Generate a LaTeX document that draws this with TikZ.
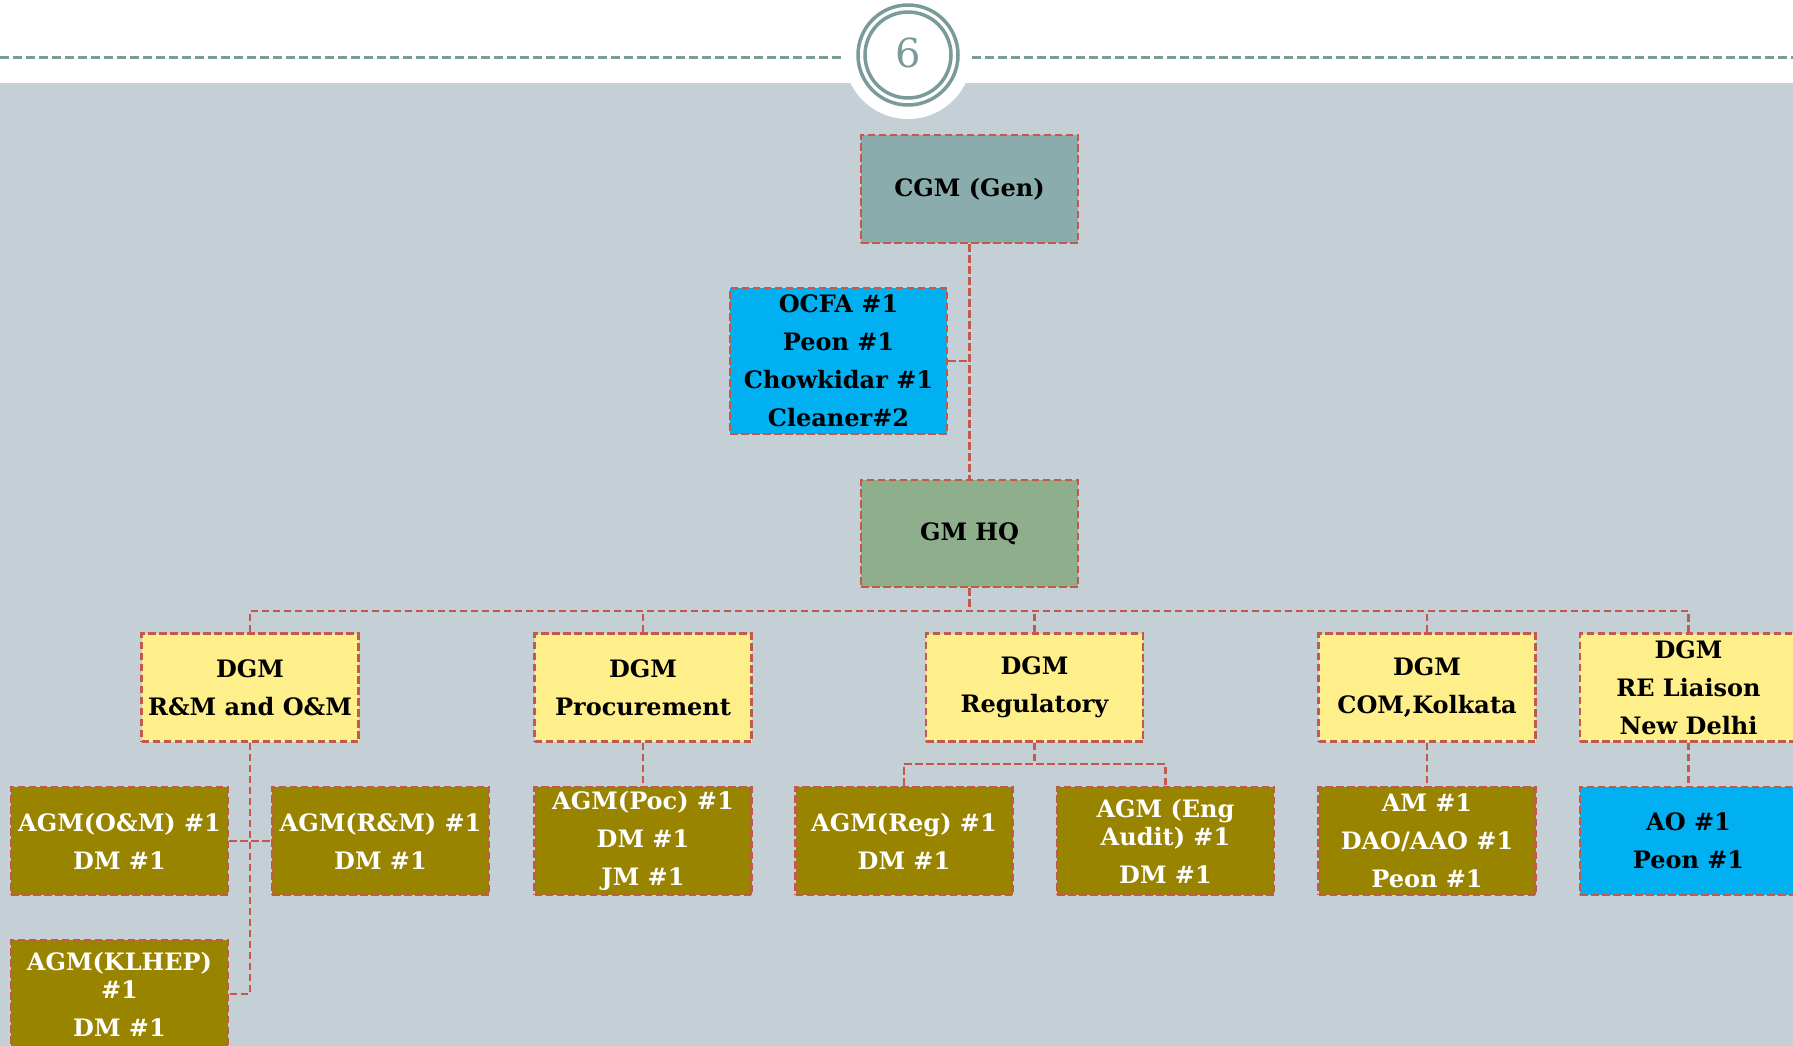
\documentclass[tikz,border=0pt]{standalone}
\usepackage{fontspec}
\setmainfont{DejaVu Serif}
\definecolor{bggray}{HTML}{C5D0D6}
\definecolor{ringc}{HTML}{7A9B99}
\definecolor{bord}{HTML}{C2594A}
\definecolor{cgmc}{HTML}{8AACAC}
\definecolor{gmc}{HTML}{8FAF8C}
\definecolor{yelc}{HTML}{FFEF8A}
\definecolor{bluec}{HTML}{00B0F0}
\definecolor{olivec}{HTML}{998400}
\begin{document}
\begin{tikzpicture}[x=1pt,y=-1pt,
  box/.style={draw=bord, line width=2.8pt, dash pattern=on 7.5pt off 3.5pt,
    minimum width=217pt, minimum height=108pt, inner sep=0pt, align=center,
    font=\fontsize{24}{38}\selectfont\bfseries, text=black},
  cgmbox/.style={box, fill=cgmc},
  gmbox/.style={box, fill=gmc},
  dgmbox/.style={box, fill=yelc},
  bluebox/.style={box, fill=bluec},
  agmbox/.style={box, fill=olivec, text=white},
  conn/.style={draw=bord, line width=2.8pt, dash pattern=on 7.5pt off 3.5pt},
  topline/.style={draw=ringc, line width=3pt, dash pattern=on 9pt off 4pt}
]
\useasboundingbox (0,0) rectangle (1793,1046);
% background
\fill[white] (0,0) rectangle (1793,83);
\fill[bggray] (0,83) rectangle (1793,1046);
\fill[white] (908,55) circle[radius=64pt];
\draw[topline] (0,58) -- (843,58);
\draw[topline] (972,58) -- (1793,58);
\draw[ringc, line width=3.5pt] (908,55) circle[radius=50pt];
\draw[ringc, line width=3.5pt] (908,55) circle[radius=43pt];
\node[text=ringc, font=\fontsize{40}{40}\selectfont] (pnum) at (908,53) {6};

% nodes
\node[cgmbox] (cgm) at (969.5,189) {CGM (Gen)};
\node[bluebox, minimum height=146pt] (ocfa) at (838.5,361) {OCFA \#1\\Peon \#1\\Chowkidar \#1\\Cleaner\#2};
\node[gmbox, minimum height=107pt] (gm) at (969.5,533.5) {GM HQ};

\node[dgmbox] (d1) at (250,687.5) {DGM\\R\&M and O\&M};
\node[dgmbox] (d2) at (643,687.5) {DGM\\Procurement};
\node[dgmbox] (d3) at (1034.5,687.5) {DGM\\Regulatory};
\node[dgmbox] (d4) at (1427,687.5) {DGM\\COM,Kolkata};
\node[dgmbox] (d5) at (1688.5,687.5) {DGM\\RE Liaison\\New Delhi};

\node[agmbox] (a1) at (119.5,841) {AGM(O\&M) \#1\\DM \#1};
\node[agmbox] (a2) at (380.5,841) {AGM(R\&M) \#1\\DM \#1};
\node[agmbox] (a3) at (119.5,994) {AGM(KLHEP)\\[-10pt]\#1\\DM \#1};
\node[agmbox] (p1) at (643,841) {AGM(Poc) \#1\\DM \#1\\JM \#1};
\node[agmbox] (r1) at (904,841) {AGM(Reg) \#1\\DM \#1};
\node[agmbox] (r2) at (1165.5,841) {AGM (Eng\\[-10pt]Audit) \#1\\DM \#1};
\node[agmbox] (c1) at (1427,841) {AM \#1\\DAO/AAO \#1\\Peon \#1};
\node[bluebox] (n1) at (1688.5,841) {AO \#1\\Peon \#1};

% connectors
\coordinate (busy) at (0,611);
\coordinate (regy) at (0,764);
\draw[conn] (cgm.south) -- (gm.north);
\draw[conn] (ocfa.east) -- (ocfa.east -| cgm.south);
\draw[conn] (gm.south) -- (gm.south |- busy);
\draw[conn] (d1.north) -- (d1.north |- busy) -- (d5.north |- busy) -- (d5.north);
\draw[conn] (d2.north) -- (d2.north |- busy);
\draw[conn] (d3.north) -- (d3.north |- busy);
\draw[conn] (d4.north) -- (d4.north |- busy);
\draw[conn] (d1.south) -- (d1.south |- a3.east) -- (a3.east);
\draw[conn] (a1.east) -- (a2.west);
\draw[conn] (d2.south) -- (p1.north);
\draw[conn] (d3.south) -- (d3.south |- regy);
\draw[conn] (r1.north) -- (r1.north |- regy) -- (r2.north |- regy) -- (r2.north);
\draw[conn] (d4.south) -- (c1.north);
\draw[conn] (d5.south) -- (n1.north);
\end{tikzpicture}
\end{document}
